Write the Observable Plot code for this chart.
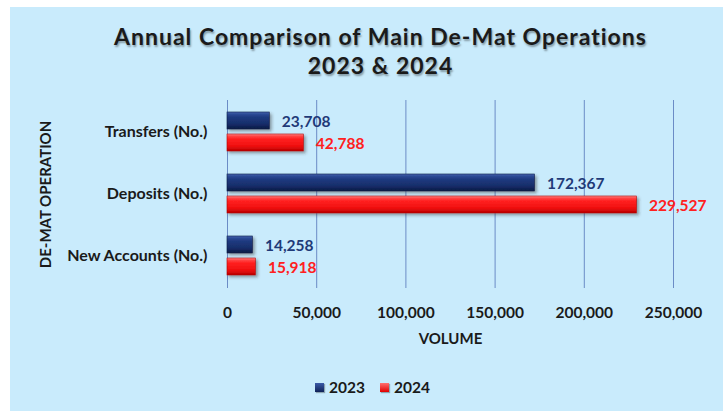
<!DOCTYPE html>
<html>
<head>
<meta charset="utf-8">
<script src="https://cdn.jsdelivr.net/npm/d3@7"></script>
<script src="https://cdn.jsdelivr.net/npm/@observablehq/plot@0.6"></script>
<style>
  html, body { margin: 0; padding: 0; background: #ffffff; width: 723px; height: 411px; overflow: hidden; font-family: Lato, "Open Sans", sans-serif; }
  #panel { position: absolute; left: 10px; top: 7px; width: 713px; height: 404px; background: #c9ebfc; }
  #title { position: absolute; left: 0; top: 22px; width: 761px; text-align: center; font-weight: 700; font-size: 23px; line-height: 29px; letter-spacing: 1px; color: #1a1a1a; text-shadow: 1px 2px 2px rgba(0,0,0,0.35); }
  #chart { position: absolute; left: 10px; top: 90px; }
  #legend { position: absolute; left: 315px; top: 378px; display: flex; align-items: center; font-weight: 700; font-size: 15.5px; color: #1a1a1a; }
  .sw { width: 9px; height: 9px; display: inline-block; margin-right: 5px; box-shadow: 1px 1px 1px rgba(0,0,0,0.3); }
  .item { display: flex; align-items: center; margin-right: 15px; }
</style>
</head>
<body>
<div id="panel"></div>
<div id="title">Annual Comparison of Main De-Mat Operations<br>2023 &amp; 2024</div>
<div id="chart"></div>
<div id="legend"></div>
<script>
const categories = ["Transfers (No.)", "Deposits (No.)", "New Accounts (No.)"];
const years = ["2023", "2024"];
const values2023 = [23708, 172367, 14258];
const values2024 = [42788, 229527, 15918];
const xTicks = [0, 50000, 100000, 150000, 200000, 250000];
const yLabel = "DE-MAT OPERATION";
const xLabel = "VOLUME";

const textColors = {"2023": "#1f3a78", "2024": "#ff2020"};
const fills = {"2023": "url(#gNavy)", "2024": "url(#gRed)"};

const d2023 = categories.map((c, i) => ({category: c, year: "2023", value: values2023[i]}));
const d2024 = categories.map((c, i) => ({category: c, year: "2024", value: values2024[i]}));
const fmt = d3.format(",");
const font = "Lato, 'Open Sans', sans-serif";

const plot = Plot.plot({
  width: 713,
  height: 265,
  marginTop: 10,
  marginBottom: 67,
  marginLeft: 217,
  marginRight: 50,
  style: {background: "transparent", fontFamily: font, overflow: "visible"},
  x: {domain: [0, 250000], axis: null},
  y: {domain: categories, paddingInner: 0.365, paddingOuter: 0.175, axis: null},
  marks: [
    Plot.gridX(xTicks, {stroke: "#6b8cc6", strokeOpacity: 1, strokeWidth: 1}),
    Plot.barX(d2023, {x: "value", y: "category", fill: fills["2023"], stroke: "#0c1a45", strokeWidth: 0.6, insetBottom: 22}),
    Plot.barX(d2024, {x: "value", y: "category", fill: fills["2024"], stroke: "#b30000", strokeWidth: 0.6, insetTop: 22}),
    Plot.text(d2023, {x: "value", y: "category", text: d => fmt(d.value), dx: 12, dy: -10, textAnchor: "start", fill: textColors["2023"], fontWeight: "bold", fontSize: 15.5}),
    Plot.text(d2024, {x: "value", y: "category", text: d => fmt(d.value), dx: 12, dy: 12, textAnchor: "start", fill: textColors["2024"], fontWeight: "bold", fontSize: 15.5}),
    Plot.axisX(xTicks, {tickSize: 0, tickPadding: 18, tickFormat: fmt, fontWeight: "bold", fontSize: 15.5, color: "#1a1a1a", label: null}),
    Plot.axisY(categories, {tickSize: 0, tickPadding: 20, fontWeight: "bold", fontSize: 16, color: "#1a1a1a", label: null}),
    Plot.text([xLabel], {frameAnchor: "bottom", dy: 55, fontWeight: "bold", fontSize: 15, fill: "#1a1a1a"}),
    Plot.text([yLabel], {frameAnchor: "left", textAnchor: "middle", rotate: -90, dx: -181, fontWeight: "bold", fontSize: 15, fill: "#1a1a1a"})
  ]
});

const svg = d3.select(plot);
const defs = svg.insert("defs", ":first-child");
function grad(id, stops) {
  const g = defs.append("linearGradient").attr("id", id).attr("x1", 0).attr("y1", 0).attr("x2", 0).attr("y2", 1);
  stops.forEach(([o, c]) => g.append("stop").attr("offset", o).attr("stop-color", c));
}
grad("gNavy", [[0, "#4a68b4"], [0.12, "#2c4a96"], [0.3, "#1f3a80"], [0.7, "#172e6a"], [1, "#0a1a44"]]);
grad("gRed", [[0, "#ff9090"], [0.12, "#ff4545"], [0.3, "#ff2020"], [0.7, "#f01010"], [1, "#b80000"]]);
const f = defs.append("filter").attr("id", "shadow").attr("x", "-10%").attr("y", "-30%").attr("width", "130%").attr("height", "180%");
f.append("feDropShadow").attr("dx", 2).attr("dy", 2).attr("stdDeviation", 1.5).attr("flood-color", "#333").attr("flood-opacity", 0.45);
svg.selectAll("g[aria-label='bar']").attr("filter", "url(#shadow)");

document.getElementById("chart").appendChild(plot);

const legend = d3.select("#legend");
years.forEach(y => {
  const it = legend.append("div").attr("class", "item");
  it.append("span").attr("class", "sw").style("background", y === "2023" ? "linear-gradient(#3a5aa8,#0f2258)" : "linear-gradient(#ff7070,#e00000)");
  it.append("span").text(y);
});
</script>
</body>
</html>
